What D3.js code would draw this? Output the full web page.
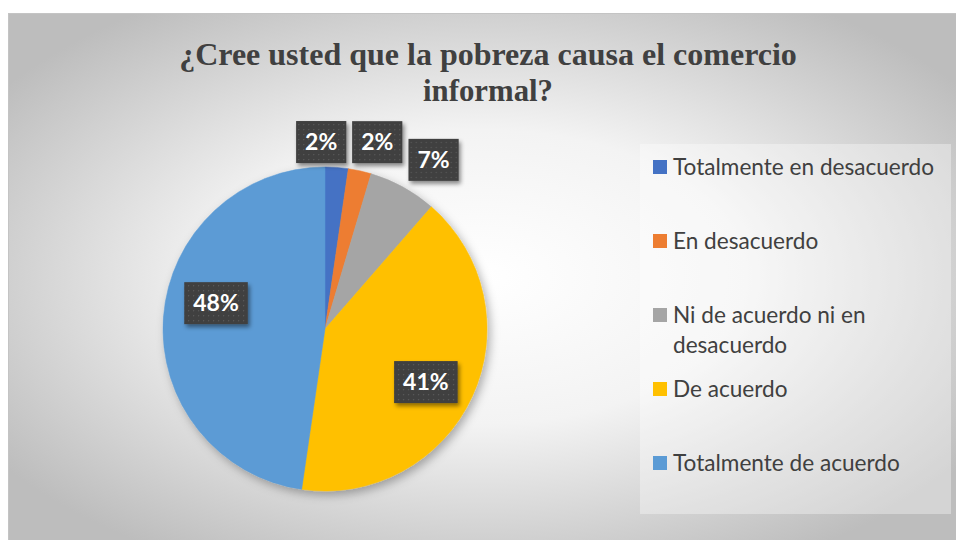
<!DOCTYPE html>
<html>
<head>
<meta charset="utf-8">
<script src="https://cdn.jsdelivr.net/npm/d3@7"></script>
<style>
  body { margin: 0; background: #fff; }
</style>
</head>
<body>
<svg width="956" height="540"></svg>
<script>
// data
var categories = ["Totalmente en desacuerdo", "En desacuerdo", "Ni de acuerdo ni en desacuerdo", "De acuerdo", "Totalmente de acuerdo"];
var values = [2.3, 2.3, 6.8, 40.9, 47.7];
var labels = ["2%", "2%", "7%", "41%", "48%"];
var colors = ["#4472C4", "#ED7D31", "#A5A5A5", "#FFC000", "#5B9BD5"];
var titleLines = ["¿Cree usted que la pobreza causa el comercio", "informal?"];

var svg = d3.select("svg");
var width = 956, height = 540;
var defs = svg.append("defs");

// background gradient like the office chart area
var bg = defs.append("radialGradient").attr("id", "bg")
    .attr("cx", "0.5").attr("cy", "0.5").attr("r", "0.62");
bg.append("stop").attr("offset", "0").attr("stop-color", "#ffffff");
bg.append("stop").attr("offset", "0.45").attr("stop-color", "#f3f3f3");
bg.append("stop").attr("offset", "1").attr("stop-color", "#bdbdbd");

// dotted texture for the data labels
var pat = defs.append("pattern").attr("id", "dots")
    .attr("width", 5).attr("height", 5).attr("patternUnits", "userSpaceOnUse");
pat.append("rect").attr("width", 5).attr("height", 5).attr("fill", "#3f3f3f");
pat.append("rect").attr("x", 2).attr("y", 2).attr("width", 1.2).attr("height", 1.2).attr("fill", "#5e5e5e");

var pieShadow = defs.append("filter").attr("id", "pieShadow")
    .attr("x", "-20%").attr("y", "-20%").attr("width", "140%").attr("height", "140%");
pieShadow.append("feDropShadow").attr("dx", 3).attr("dy", 4).attr("stdDeviation", 5)
    .attr("flood-color", "#000").attr("flood-opacity", 0.3);

var boxShadow = defs.append("filter").attr("id", "boxShadow")
    .attr("x", "-30%").attr("y", "-30%").attr("width", "160%").attr("height", "160%");
boxShadow.append("feDropShadow").attr("dx", 2).attr("dy", 3).attr("stdDeviation", 2)
    .attr("flood-color", "#000").attr("flood-opacity", 0.45);

svg.append("rect")
    .attr("x", 8.5).attr("y", 13.5)
    .attr("width", width - 8).attr("height", height - 13)
    .attr("fill", "url(#bg)")
    .attr("stroke", "#c4c4c4");

// title
var title = svg.append("g");
title.selectAll("text")
  .data(titleLines)
  .enter()
  .append("text")
  .text(function(d){ return d; })
  .attr("x", 488)
  .attr("y", function(d, i){ return 65 + i * 36; })
  .attr("text-anchor", "middle")
  .attr("font-family", "'Liberation Serif', 'Times New Roman', serif")
  .attr("font-weight", 700)
  .attr("font-size", 32)
  .attr("fill", "#404040")
  .each(function(d, i){
    // the original title is set a bit narrower than normal
    var w = this.getComputedTextLength();
    var target = i == 0 ? 619 : 130;
    if (w > target) d3.select(this).attr("textLength", target).attr("lengthAdjust", "spacingAndGlyphs");
  });

// pie
var cx = 325, cy = 329, radius = 162;
var pie = d3.pie().sort(null).value(function(d){ return d; });
var arc = d3.arc().innerRadius(0).outerRadius(radius);
var arcs = pie(values);

var pieG = svg.append("g")
    .attr("transform", "translate(" + cx + "," + cy + ")");

pieG.append("g")
    .attr("filter", "url(#pieShadow)")
    .selectAll("path")
    .data(arcs)
    .enter()
    .append("path")
    .attr("d", arc)
    .attr("fill", function(d, i){ return colors[i]; })
    .attr("stroke", function(d, i){ return colors[i]; })
    .attr("stroke-width", 0.5);

// label placement: distance from centre and angular nudge (degrees), as in the best-fit layout
var labelPlace = [[187, -5.3], [194, 3.2], [201, 3.9], [114, 3.1], [112, 9.2]];

var lab = pieG.selectAll(".lab")
    .data(arcs)
    .enter()
    .append("g")
    .attr("class", "lab")
    .attr("transform", function(d, i){
      var a = (d.startAngle + d.endAngle) / 2 + labelPlace[i][1] * Math.PI / 180;
      var r = labelPlace[i][0];
      return "translate(" + (r * Math.sin(a)) + "," + (-r * Math.cos(a)) + ")";
    });

lab.append("text")
    .text(function(d, i){ return labels[i]; })
    .attr("text-anchor", "middle")
    .attr("y", 8)
    .attr("font-family", "Lato, 'Open Sans', sans-serif")
    .attr("font-weight", 700)
    .attr("font-size", 23)
    .attr("fill", "#fff")
    .each(function(){
      var w = this.getComputedTextLength() + 18;
      d3.select(this.parentNode).insert("rect", "text")
        .attr("x", -w / 2).attr("y", -21)
        .attr("width", w).attr("height", 42)
        .attr("fill", "url(#dots)")
        .attr("filter", "url(#boxShadow)");
    });

// legend
var legend = svg.append("g");
legend.append("rect")
    .attr("x", 640).attr("y", 144)
    .attr("width", 311).attr("height", 370)
    .attr("fill", "#fff").attr("fill-opacity", 0.35);

var ly = d3.scalePoint().domain(categories).range([167, 463]);

var item = legend.selectAll(".item")
    .data(categories)
    .enter()
    .append("g")
    .attr("class", "item")
    .attr("transform", function(d){ return "translate(653," + ly(d) + ")"; });

item.append("rect")
    .attr("x", 0).attr("y", -7)
    .attr("width", 14).attr("height", 14)
    .attr("fill", function(d, i){ return colors[i]; });

item.append("text")
    .attr("x", 20)
    .attr("y", 8)
    .attr("font-family", "Lato, 'Open Sans', sans-serif")
    .attr("font-size", 22.6)
    .attr("fill", "#404040")
    .each(function(d){
      // simple word wrap inside the legend box
      var t = d3.select(this);
      var words = d.split(" ");
      var line = [];
      var ts = t.append("tspan").attr("x", 20);
      words.forEach(function(w){
        line.push(w);
        ts.text(line.join(" "));
        if (ts.node().getComputedTextLength() > 270 && line.length > 1) {
          line.pop();
          ts.text(line.join(" "));
          line = [w];
          ts = t.append("tspan").attr("x", 20).attr("dy", 30).text(w);
        }
      });
    });
</script>
</body>
</html>
